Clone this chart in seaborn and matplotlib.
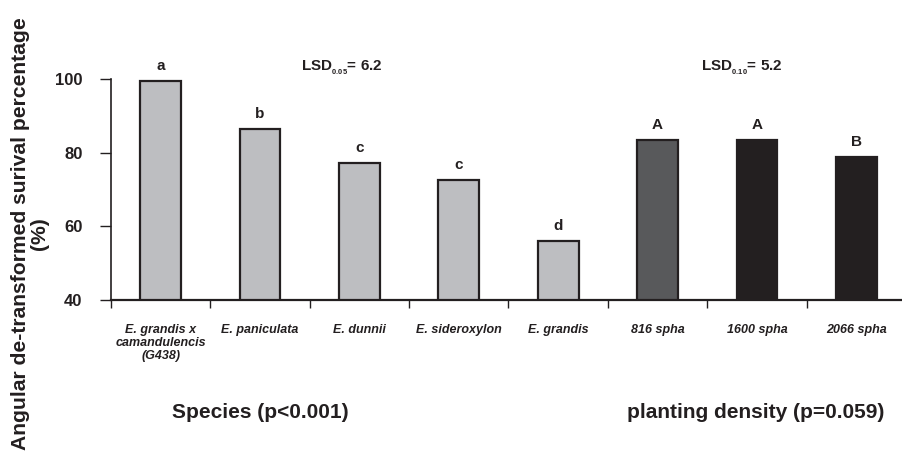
import matplotlib
matplotlib.use("Agg")
import matplotlib.pyplot as plt
import seaborn as sns
import numpy as np

sns.set_theme(style="white")
plt.rcParams["font.family"] = ["Liberation Sans", "DejaVu Sans"]
plt.rcParams["mathtext.fontset"] = "custom"
plt.rcParams["mathtext.rm"] = "Liberation Sans:bold"
plt.rcParams["mathtext.bf"] = "Liberation Sans:bold"
plt.rcParams["mathtext.it"] = "Liberation Sans:bold"

categories = [
    "E. grandis x\ncamandulencis\n(G438)",
    "E. paniculata",
    "E. dunnii",
    "E. sideroxylon",
    "E. grandis",
    "816 spha",
    "1600 spha",
    "2066 spha",
]
survival = [99.6, 86.5, 77.3, 72.5, 56.0, 83.5, 83.5, 78.8]
letters = ["a", "b", "c", "c", "d", "A", "A", "B"]
bar_colors = ["#bdbec1", "#bdbec1", "#bdbec1", "#bdbec1", "#bdbec1",
              "#58595b", "#231f20", "#231f20"]
y_ticks = [40, 60, 80, 100]
ink = "#231f20"

fig = plt.figure(figsize=(9.03, 4.53), dpi=100)
ax = fig.add_axes([111 / 903, 1 - 300 / 453, 795 / 903, (300 - 79.3) / 453])

sns.barplot(x=categories, y=survival, hue=categories, palette=bar_colors,
            width=0.41, edgecolor=ink, linewidth=1.6, legend=False,
            saturation=1, ax=ax)

ax.set_xlim(-0.5, 7.5)
ax.set_ylim(40, 100)
ax.set_yticks(y_ticks)
ax.set_yticklabels([str(t) for t in y_ticks], fontsize=12, fontweight="bold",
                   color=ink)

# category labels at bar centres, tick marks at category boundaries
ax.set_xticks(np.arange(len(categories)))
ax.set_xticklabels(categories, fontsize=9, fontweight="bold", style="italic",
                   linespacing=1.12, va="top", color=ink)
ax.set_xticks(np.arange(-0.5, len(categories), 1.0), minor=True)
ax.tick_params(axis="x", which="major", length=0, pad=17)
ax.tick_params(axis="x", which="minor", direction="out", length=6, width=1.0,
               color=ink, bottom=True)
ax.tick_params(axis="y", direction="out", length=8, width=1.0, color=ink,
               left=True, pad=12.5)

for side in ["top", "right"]:
    ax.spines[side].set_visible(False)
ax.spines["left"].set_color(ink)
ax.spines["bottom"].set_color(ink)
ax.spines["left"].set_linewidth(1.2)
ax.spines["bottom"].set_linewidth(1.6)
ax.set_xlabel("")
ax.set_ylabel("")

for i, (v, lab) in enumerate(zip(survival, letters)):
    ax.text(i, v + 2.2, lab, ha="center", va="bottom", fontsize=11,
            fontweight="bold", color=ink)

ax.text(1.82, 103.2, r"LSD$_{_{0.05}}$= 6.2", ha="center", va="center",
        fontsize=11, fontweight="bold", color=ink, clip_on=False)
ax.text(5.85, 103.2, r"LSD$_{_{0.10}}$= 5.2", ha="center", va="center",
        fontsize=11, fontweight="bold", color=ink, clip_on=False)

fig.text(30 / 903, 1 - 234 / 453,
         "Angular de-transformed surival percentage\n(%)",
         rotation=90, ha="center", va="center", fontsize=15.2,
         fontweight="bold", color=ink, linespacing=0.95)

fig.text(260 / 903, 1 - 412 / 453, "Species (p<0.001)", ha="center",
         va="center", fontsize=15, fontweight="bold", color=ink)
fig.text(756 / 903, 1 - 412 / 453, "planting density (p=0.059)", ha="center",
         va="center", fontsize=15, fontweight="bold", color=ink)

fig.savefig("out.png", dpi=100)
